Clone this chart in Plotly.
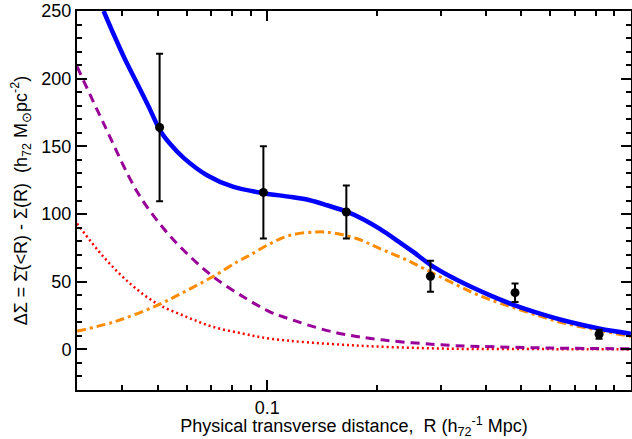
import plotly.graph_objects as go

# Data points (R in h72^-1 Mpc, DeltaSigma in h72 Msun pc^-2)
pt_r = [0.0506, 0.0976, 0.165, 0.281, 0.48, 0.817]
pt_ds = [164.0, 116.0, 101.5, 54.0, 41.9, 11.2]
pt_err = [54.5, 34.0, 19.5, 11.5, 6.8, 3.4]

# Total model (blue solid)
blue_r = [0.0355, 0.0378, 0.0407, 0.0439, 0.0472, 0.0508, 0.0542, 0.0589, 0.0683, 0.0808,
          0.0977, 0.1157, 0.131, 0.146, 0.166, 0.184, 0.204, 0.227, 0.252, 0.281,
          0.318, 0.361, 0.410, 0.48, 0.562, 0.679, 0.822, 1.0]
blue_ds = [250.0, 233.0, 214.0, 196.5, 179.5, 161.5, 151.5, 141.5, 128.7, 120.0,
           115.4, 112.7, 110.2, 106.5, 101.6, 96.0, 89.0, 80.6, 72.0, 62.5,
           54.0, 46.6, 39.9, 32.5, 26.4, 20.2, 15.3, 11.6]

# Purple dashed component
purple_r = [0.03, 0.0355, 0.0439, 0.0519, 0.0602, 0.0712, 0.0861, 0.102, 0.111, 0.152,
            0.209, 0.318, 0.385, 0.6, 1.0]
purple_ds = [209.0, 167.0, 116.5, 89.3, 70.8, 53.5, 38.7, 27.6, 23.9, 12.8,
             6.9, 3.0, 2.2, 1.0, 0.5]

# Red dotted component
red_r = [0.03, 0.0355, 0.042, 0.0498, 0.0602, 0.0712, 0.0861, 0.102, 0.172, 0.318, 0.6, 1.0]
red_ds = [93.0, 68.3, 48.6, 33.8, 23.9, 16.5, 11.6, 7.9, 3.0, 0.5, 0.2, 0.0]

# Orange dash-dot component
orange_r = [0.03, 0.0378, 0.0498, 0.0602, 0.0712, 0.0826, 0.0898, 0.102, 0.1157, 0.137,
            0.152, 0.176, 0.204, 0.237, 0.275, 0.318, 0.385, 0.48, 0.587, 0.652, 1.0]
orange_ds = [13.5, 20.2, 32.5, 43.6, 54.0, 64.6, 69.8, 78.2, 84.3, 86.8,
             86.0, 81.9, 74.5, 67.1, 58.5, 50.0, 39.5, 30.5, 23.0, 19.5, 9.5]

x_major = [0.1, 1]
x_major_text = ["0.1", "1"]
x_minor = [0.03, 0.04, 0.05, 0.06, 0.07, 0.08, 0.09, 0.2, 0.3, 0.4, 0.5, 0.6, 0.7, 0.8, 0.9]

font_family = "Liberation Sans, Arial, Helvetica, sans-serif"
x_range = [-1.5229, 0]
y_range = [-30, 250]

fig = go.Figure()

fig.add_trace(go.Scatter(x=red_r, y=red_ds, mode="lines", line_shape="spline",
                         line=dict(color="#FF0000", width=2.5, dash="2px,3px"),
                         showlegend=False, hoverinfo="skip"))
fig.add_trace(go.Scatter(x=purple_r, y=purple_ds, mode="lines", line_shape="spline",
                         line=dict(color="#990099", width=3, dash="9px,6px"),
                         showlegend=False, hoverinfo="skip"))
fig.add_trace(go.Scatter(x=orange_r, y=orange_ds, mode="lines", line_shape="spline",
                         line=dict(color="#FF8C00", width=3, dash="9px,4px,3px,4px"),
                         showlegend=False, hoverinfo="skip"))
fig.add_trace(go.Scatter(x=blue_r, y=blue_ds, mode="lines", line_shape="spline",
                         line=dict(color="#0000FF", width=4.5, smoothing=0.8),
                         showlegend=False, hoverinfo="skip"))
fig.add_trace(go.Scatter(x=pt_r, y=pt_ds, mode="markers",
                         marker=dict(color="black", size=9),
                         error_y=dict(type="data", array=pt_err, color="black",
                                      thickness=2, width=3.5),
                         showlegend=False))
# invisible trace to carry the minor-tick overlay axes
fig.add_trace(go.Scatter(x=pt_r, y=pt_ds, mode="markers", xaxis="x2", yaxis="y2",
                         marker=dict(opacity=0), showlegend=False, hoverinfo="skip"))

fig.update_layout(
    template="none",
    width=632, height=439,
    margin=dict(l=77, r=1, t=11, b=49),
    paper_bgcolor="white", plot_bgcolor="white",
    font=dict(family=font_family, color="black"),
    xaxis=dict(
        type="log", range=x_range,
        tickmode="array", tickvals=x_major, ticktext=x_major_text,
        ticks="inside", ticklen=10, tickwidth=1.5, tickcolor="black",
        tickfont=dict(size=18),
        showline=True, linecolor="black", linewidth=2, mirror="ticks",
        showgrid=False, zeroline=False, automargin=False,
        title=dict(text="Physical transverse distance,  R (h<sub>72</sub><sup>-1</sup> Mpc)",
                   font=dict(size=18), standoff=3),
    ),
    yaxis=dict(
        range=y_range,
        tickmode="linear", tick0=0, dtick=50,
        ticks="inside", ticklen=10, tickwidth=1.5, tickcolor="black",
        tickfont=dict(size=18),
        showline=True, linecolor="black", linewidth=2, mirror="ticks",
        showgrid=False, zeroline=False, automargin=False,
        title=dict(text="\u0394\u03a3 = \u03a3\u0304(<R) - \u03a3(R)  (h<sub>72</sub> M<sub>\u2299</sub>pc<sup>-2</sup>)",
                   font=dict(size=18), standoff=9),
    ),
    xaxis2=dict(
        type="log", range=x_range, overlaying="x", anchor="y2", side="bottom",
        tickmode="array", tickvals=x_minor,
        ticks="inside", ticklen=5, tickwidth=1.5, tickcolor="black",
        showticklabels=False, showline=False, mirror="ticks",
        showgrid=False, zeroline=False, automargin=False,
    ),
    yaxis2=dict(
        range=y_range, overlaying="y", anchor="x2", side="left",
        tickmode="linear", tick0=0, dtick=10,
        ticks="inside", ticklen=5, tickwidth=1.5, tickcolor="black",
        showticklabels=False, showline=False, mirror="ticks",
        showgrid=False, zeroline=False, automargin=False,
    ),
)

fig.write_html("out.html", config={"displayModeBar": False},
               post_script="document.body.style.margin='0';document.body.style.padding='0';")
